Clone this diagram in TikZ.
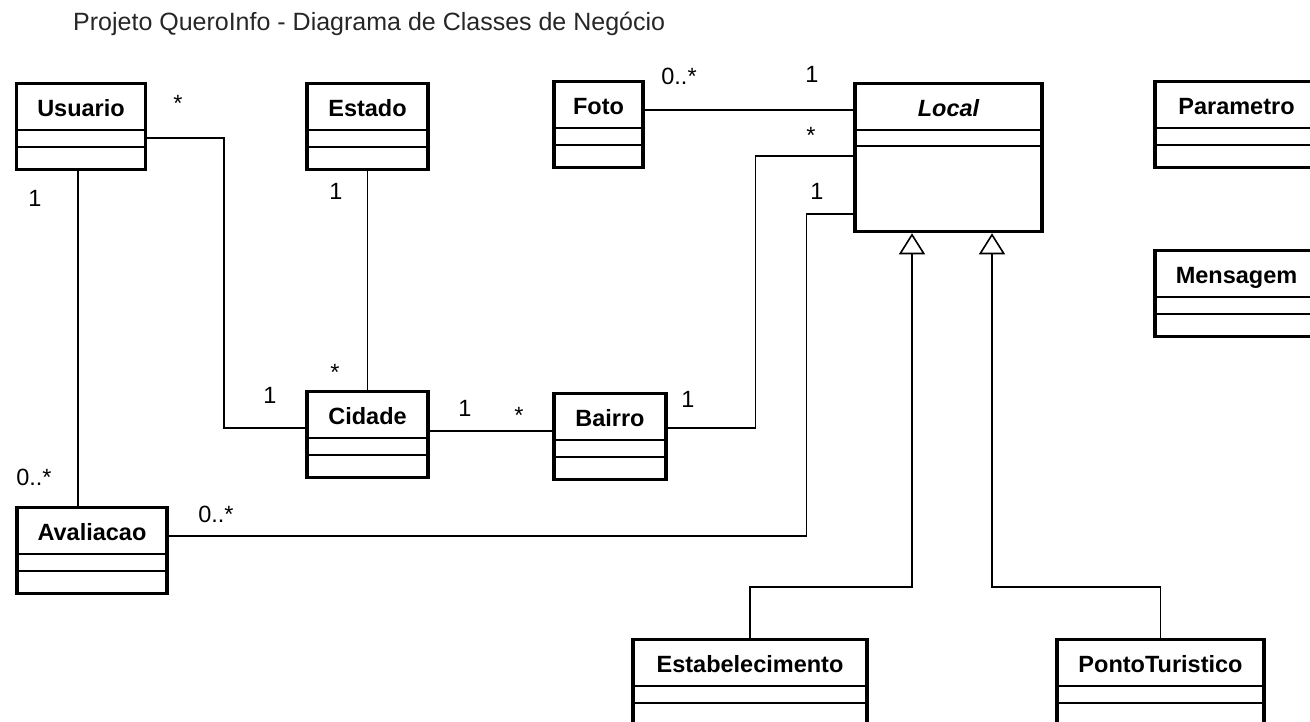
\documentclass[tikz,border=0pt]{standalone}
\usepackage{fontspec}
\setmainfont{Liberation Sans}
\usetikzlibrary{arrows.meta}

\begin{document}
\begin{tikzpicture}[
    x=1pt, y=-1pt,
    cls/.style={rectangle, draw=black, line width=3.3pt, anchor=north, inner sep=0pt,
                text height=33pt, text depth=53pt, font=\fontsize{23.5}{28}\selectfont\bfseries},
    sep/.style={line width=1.8pt},
    assoc/.style={line width=1.6pt},
    gen/.style={line width=1.6pt, -{Triangle[open, length=21pt, width=26pt]}},
    mult/.style={anchor=base, inner sep=0pt, font=\fontsize{23.5}{28}\selectfont}
]
\useasboundingbox (0,0) rectangle (1310,722);
\clip (0,0) rectangle (1310,722);

% ---- Title ----
\node[anchor=base west, inner sep=0pt, black!85, font=\fontsize{25}{30}\selectfont] (title) at (73,31)
    {Projeto QueroInfo - Diagrama de Classes de Negócio};

% ---- Classes ----
\node[cls, minimum width=129] (usuario) at (81,82) {Usuario};
\node[cls, minimum width=121] (estado) at (367.5,82) {Estado};
\node[cls, minimum width=89] (foto) at (598.5,80) {Foto};
\node[cls, minimum width=187, text depth=115pt] (local) at (948.5,82) {\itshape Local};
\node[cls, minimum width=163] (parametro) at (1236.5,80) {Parametro};
\node[cls, minimum width=163] (mensagem) at (1236.5,249) {Mensagem};
\node[cls, minimum width=121] (cidade) at (367.5,390) {Cidade};
\node[cls, minimum width=112] (bairro) at (610,392) {Bairro};
\node[cls, minimum width=150] (avaliacao) at (92,506) {Avaliacao};
\node[cls, minimum width=234] (estabelecimento) at (750,638) {Estabelecimento};
\node[cls, minimum width=207] (pontoturistico) at (1160.5,638) {PontoTuristico};

% compartments
\foreach \c in {usuario,estado,foto,parametro,mensagem,cidade,bairro,avaliacao,estabelecimento,pontoturistico}
    \draw[sep] ([yshift=-48pt]\c.north west) -- ([yshift=-48pt]\c.north east)
               ([yshift=-65pt]\c.north west) -- ([yshift=-65pt]\c.north east);
\draw[sep] ([yshift=-48pt]local.north west) -- ([yshift=-48pt]local.north east)
           ([yshift=-64pt]local.north west) -- ([yshift=-64pt]local.north east);

% ---- Associations ----
\draw[assoc] ([yshift=-56pt]usuario.north east) -- ++(77,0) |- ([yshift=-38pt]cidade.north west);
\draw[assoc] (estado.south) -- (cidade.north);
\draw[assoc] ([xshift=-3pt]usuario.south) -- ([xshift=-3pt]usuario.south |- avaliacao.north);
\draw[assoc] ([yshift=-41pt]cidade.north east) -- ([yshift=-41pt]cidade.north east -| bairro.west);
\draw[assoc] ([yshift=-36pt]bairro.north east) -- ++(88,0) |- ([yshift=-74pt]local.north west);
\draw[assoc] ([yshift=-30pt]foto.north east) -- ([yshift=-28pt]local.north west);
\draw[assoc] ([yshift=-30pt]avaliacao.north east) -- ++(638,0) |- ([yshift=-132pt]local.north west);

% ---- Generalizations ----
\draw[gen] (estabelecimento.north) -- ++(0,-51) -| ([xshift=-36.5pt]local.south);
\draw[gen] (pontoturistico.north) -- ++(0,-51) -| ([xshift=43.5pt]local.south);

% ---- Multiplicities ----
\node[mult] (m-us-ci) at (178,112) {*};
\node[mult] (m-ci-us) at (270,403) {1};
\node[mult] (m-es) at (336,200) {1};
\node[mult] (m-ci-es) at (335,380) {*};
\node[mult] (m-us-av) at (35,207) {1};
\node[mult] (m-av-us) at (34,485) {0..*};
\node[mult] (m-ci-ba) at (465,416) {1};
\node[mult] (m-ba-ci) at (519,423) {*};
\node[mult] (m-ba-lo) at (688,407) {1};
\node[mult] (m-lo-ba) at (811,144) {*};
\node[mult] (m-fo) at (679,85) {0..*};
\node[mult] (m-lo-fo) at (812,83) {1};
\node[mult] (m-av-lo) at (216,522) {0..*};
\node[mult] (m-lo-av) at (817,200) {1};

\end{tikzpicture}
\end{document}
